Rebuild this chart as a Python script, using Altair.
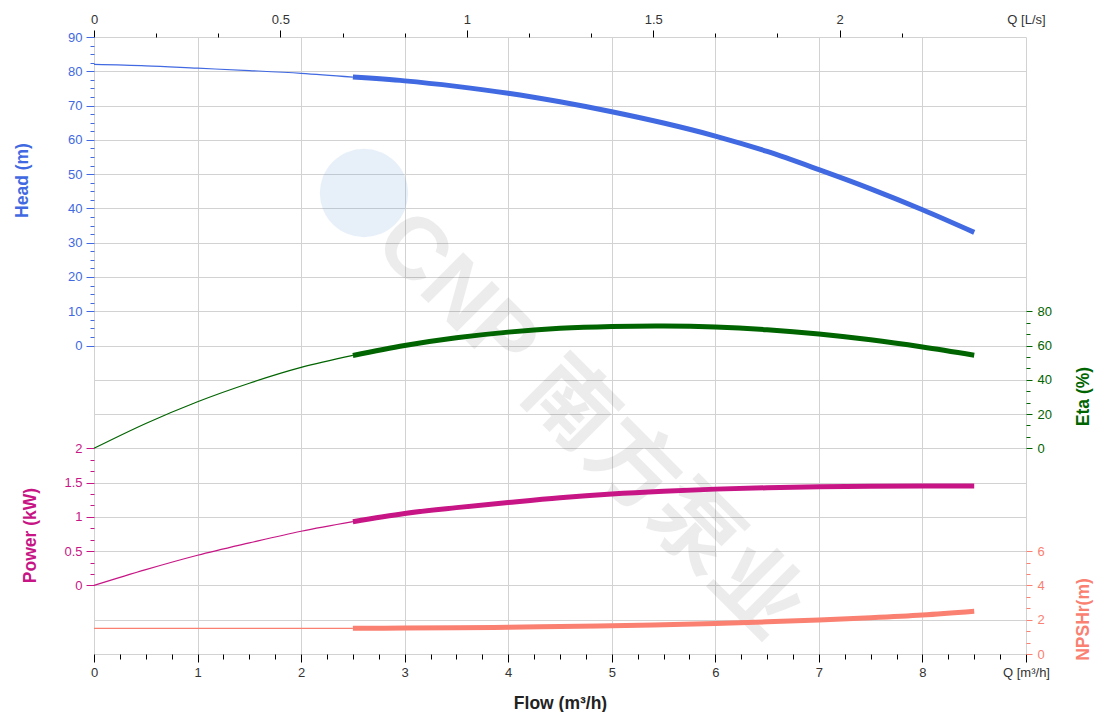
import altair as alt
import pandas as pd

# ---------------- data ----------------
Q = [0, 0.5, 1, 1.5, 2, 2.5, 3, 3.5, 4, 4.5, 5, 5.5, 6, 6.5, 7, 7.5, 8, 8.5]
HEAD = [82.0, 81.6, 80.9, 80.2, 79.4, 78.3, 77.2, 75.6, 73.6, 71.1, 68.2, 64.9, 61.1, 56.6, 51.3, 45.7, 39.6, 33.0]
ETA = [0.0, 14.5, 27.2, 38.0, 47.2, 54.2, 60.0, 64.5, 67.8, 70.0, 71.1, 71.4, 70.8, 69.2, 66.7, 63.3, 59.1, 54.3]
POWER = [0.0, 0.23, 0.44, 0.62, 0.79, 0.93, 1.05, 1.135, 1.21, 1.28, 1.335, 1.375, 1.405, 1.425, 1.438, 1.446, 1.45, 1.45]
NPSH = [1.5, 1.5, 1.5, 1.5, 1.5, 1.5, 1.51, 1.53, 1.56, 1.6, 1.65, 1.71, 1.78, 1.88, 1.99, 2.12, 2.28, 2.5]
Q_OP_START = 2.5  # start of the bold (operating) part of every curve

HEAD_TICKS = [0, 10, 20, 30, 40, 50, 60, 70, 80, 90]
ETA_TICKS = [0, 20, 40, 60, 80]
POWER_TICKS = [0, 0.5, 1, 1.5, 2]
NPSH_TICKS = [0, 2, 4, 6]
FLOW_TICKS = [0, 1, 2, 3, 4, 5, 6, 7, 8, 9]
LS_TICKS = [0, 0.5, 1, 1.5, 2]

# ---------------- style ----------------
FONT = "Liberation Sans"
C_HEAD, C_ETA, C_POW, C_NPSH = "#4169E1", "#006400", "#C71585", "#FA8072"
GRID = "#d2d2d2"
W, H = 932, 617
THIN, THICK = 1.2, 5
INTERP = "catmull-rom"
PLAIN = "'' + datum.value"


def seg_df(vals):
    rows = []
    for q, v in zip(Q, vals):
        if q <= Q_OP_START:
            rows.append(dict(Q=q, v=v, seg="thin", w=THIN))
        if q >= Q_OP_START:
            rows.append(dict(Q=q, v=v, seg="thick", w=THICK))
    return pd.DataFrame(rows)


base_df = pd.DataFrame({"Q": Q, "v": HEAD})
base_df["Qls"] = base_df["Q"] / 3.6

XS = alt.Scale(domain=[0, 9], nice=False, zero=False)


def curve(vals, color, domain, axis):
    return alt.Chart(seg_df(vals)).mark_line(interpolate=INTERP, color=color).encode(
        x=alt.X("Q:Q", scale=XS, axis=None),
        y=alt.Y("v:Q", scale=alt.Scale(domain=domain, nice=False, zero=False), axis=axis),
        detail="seg:N",
        strokeWidth=alt.StrokeWidth("w:Q", scale=None, legend=None),
    )


def yaxis_layer(domain, axis):
    return alt.Chart(base_df).mark_point(opacity=0).encode(
        x=alt.X("Q:Q", scale=XS, axis=None),
        y=alt.Y("v:Q", scale=alt.Scale(domain=domain, nice=False, zero=False), axis=axis),
    )


def xaxis_layer(field, domain, axis):
    return alt.Chart(base_df).mark_point(opacity=0).encode(
        x=alt.X(f"{field}:Q", scale=alt.Scale(domain=domain, nice=False, zero=False), axis=axis),
        y=alt.Y("v:Q", axis=None),
    )


def minor(major, step, lo, hi):
    out = []
    k = 0
    while lo + k * step <= hi + 1e-9:
        val = round(lo + k * step, 6)
        if all(abs(val - m) > 1e-6 for m in major):
            out.append(val)
        k += 1
    return out


D_HEAD, D_ETA, D_POW, D_NPSH = [-90, 90], [-120, 240], [-1, 8], [0, 36]

common_y = dict(domain=False, grid=False, labelExpr=PLAIN, labelFont=FONT, labelFontSize=13,
                titleFont=FONT, titleFontSize=17.5, titleFontWeight="bold", titleAngle=-90,
                titleAlign="center", titleBaseline="middle")

# ---------------- watermark ----------------
wm_df = pd.DataFrame({"t": ["CNP 南方泵业"]})
watermark = alt.Chart(wm_df).mark_text(
    angle=45, font=FONT + ", Noto Sans CJK SC", fontSize=88, fontWeight="bold",
    color="#000000", opacity=0.07, align="center", baseline="middle",
).encode(x=alt.value(494), y=alt.value(389), text="t:N")
logo = alt.Chart(wm_df).mark_point(
    shape="circle", filled=True, size=7800, color="#5b9bd5", opacity=0.15
).encode(x=alt.value(270), y=alt.value(156))

# ---------------- grid + bottom axis ----------------
grid_layer = alt.Chart(base_df).mark_point(opacity=0).encode(
    x=alt.X("Q:Q", scale=XS, axis=alt.Axis(
        orient="bottom", values=FLOW_TICKS, grid=True, gridColor=GRID, gridWidth=1,
        domain=False, tickSize=8, tickColor="#000", labelColor="#333", labelFont=FONT,
        labelFontSize=13, labelPadding=4, labelFlush=False, labelOverlap=False,
        labelExpr="datum.value == 9 ? 'Q [m³/h]' : '' + datum.value",
        title="Flow (m³/h)", titleFont=FONT, titleFontSize=17.5, titleFontWeight="bold",
        titleColor="#222", titleX=W / 2, titleY=49, titleAlign="center", titleBaseline="middle")),
    y=alt.Y("v:Q", scale=alt.Scale(domain=D_HEAD, nice=False, zero=False), axis=alt.Axis(
        orient="left", values=list(range(-90, 91, 10)), grid=True, gridColor=GRID, gridWidth=1,
        ticks=False, labels=False, domain=False, title=None)),
)

bottom_minor = xaxis_layer("Q", [0, 9], alt.Axis(
    orient="bottom", values=minor(FLOW_TICKS, 0.25, 0, 9), grid=False, domain=False,
    tickSize=5, tickColor="#000", labels=False, title=None))

top_major = xaxis_layer("Qls", [0, 2.5], alt.Axis(
    orient="top", values=LS_TICKS, grid=False, domain=False, tickSize=7, tickColor="#000",
    labelColor="#333", labelFont=FONT, labelFontSize=13, labelPadding=4, labelFlush=False,
    labelExpr=PLAIN, title=None))
top_minor = xaxis_layer("Qls", [0, 2.5], alt.Axis(
    orient="top", values=minor(LS_TICKS, 1 / 6, 0, 2.17), grid=False, domain=False,
    tickSize=4, tickColor="#000", labels=False, title=None))
top_unit = xaxis_layer("Qls", [0, 2.5], alt.Axis(
    orient="top", values=[2.5], grid=False, domain=False, tickSize=7, tickOpacity=0,
    labelColor="#333", labelFont=FONT, labelFontSize=13, labelPadding=4, labelFlush=False,
    labelExpr="'Q [L/s]'", title=None))

# ---------------- curves with their axes ----------------
head = curve(HEAD, C_HEAD, D_HEAD, alt.Axis(
    orient="left", values=HEAD_TICKS, tickSize=8, tickColor=C_HEAD, labelColor=C_HEAD,
    labelPadding=4, title="Head (m)", titleColor=C_HEAD, titleX=-72, titleY=143, **common_y))
head_minor = yaxis_layer(D_HEAD, alt.Axis(
    orient="left", values=minor(HEAD_TICKS, 2.5, 0, 90), tickSize=4, tickColor=C_HEAD,
    labels=False, domain=False, grid=False, title=None))

eta = curve(ETA, C_ETA, D_ETA, alt.Axis(
    orient="right", values=ETA_TICKS, tickSize=6, tickColor=C_ETA, labelColor=C_ETA,
    labelPadding=5, title="Eta (%)", titleColor=C_ETA, titleX=57, titleY=359, **common_y))
eta_minor = yaxis_layer(D_ETA, alt.Axis(
    orient="right", values=minor(ETA_TICKS, 20 / 3, 0, 80), tickSize=4, tickColor=C_ETA,
    labels=False, domain=False, grid=False, title=None))

power = curve(POWER, C_POW, D_POW, alt.Axis(
    orient="left", values=POWER_TICKS, tickSize=8, tickColor=C_POW, labelColor=C_POW,
    labelPadding=4, title="Power (kW)", titleColor=C_POW, titleX=-64, titleY=498, **common_y))
power_minor = yaxis_layer(D_POW, alt.Axis(
    orient="left", values=minor(POWER_TICKS, 0.5 / 3, 0, 2), tickSize=4, tickColor=C_POW,
    labels=False, domain=False, grid=False, title=None))

npsh = curve(NPSH, C_NPSH, D_NPSH, alt.Axis(
    orient="right", values=NPSH_TICKS, tickSize=6, tickColor=C_NPSH, labelColor=C_NPSH,
    labelPadding=5, title="NPSHr(m)", titleColor=C_NPSH, titleX=57, titleY=582, **common_y))
npsh_minor = yaxis_layer(D_NPSH, alt.Axis(
    orient="right", values=minor(NPSH_TICKS, 2 / 3, 0, 6), tickSize=4, tickColor=C_NPSH,
    labels=False, domain=False, grid=False, title=None))

chart = alt.layer(
    watermark, logo, grid_layer, bottom_minor, top_major, top_minor, top_unit,
    head_minor, eta_minor, power_minor, npsh_minor,
    npsh, power, eta, head,
).resolve_scale(x="independent", y="independent").properties(
    width=W, height=H,
    autosize=alt.AutoSizeParams(type="none"),
    padding={"left": 86, "top": 29, "right": 80, "bottom": 58},
).configure_view(stroke=None)

chart.save("out.html", embed_options={"renderer": "svg", "actions": False})
